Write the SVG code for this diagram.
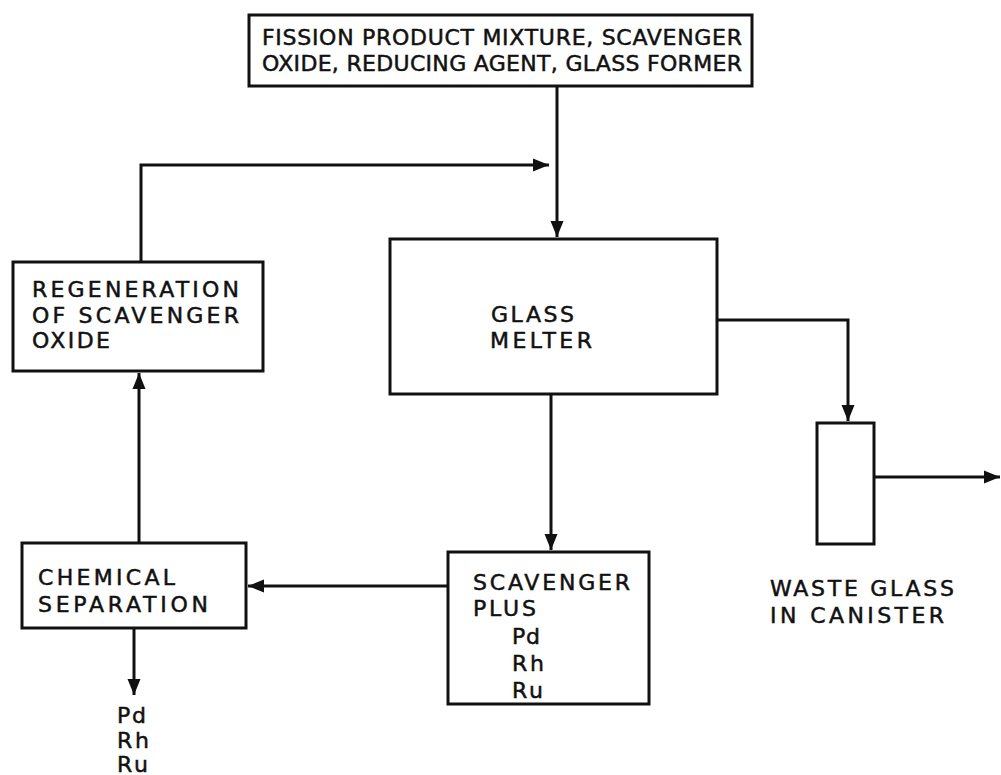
<svg xmlns="http://www.w3.org/2000/svg" width="1001" height="775" viewBox="0 0 1001 775">
<style>
  .box { fill: #fff; stroke: #111; stroke-width: 3; }
  .conn { fill: none; stroke: #111; stroke-width: 3; }
  .t { font-family: "DejaVu Sans", "Liberation Sans", sans-serif; font-size: 22px; fill: #111; stroke: #111; stroke-width: 0.5; }
</style>
<defs>
  <marker id="arr" markerUnits="userSpaceOnUse" markerWidth="18" markerHeight="16" refX="16" refY="8" orient="auto">
    <path d="M0,1.5 L16,8 L0,14.5 Z" fill="#111"/>
  </marker>
</defs>
<rect width="1001" height="775" fill="#fff"/>
<g id="connectors">
  <path class="conn" d="M557,87 L557,237" marker-end="url(#arr)"/>
  <path class="conn" d="M141,261 L141,165 L549,165" marker-end="url(#arr)"/>
  <path class="conn" d="M718,320 L848,320 L848,421" marker-end="url(#arr)"/>
  <path class="conn" d="M875,477 L1000,477" marker-end="url(#arr)"/>
  <path class="conn" d="M551,395 L551,550" marker-end="url(#arr)"/>
  <path class="conn" d="M447,586 L248,586" marker-end="url(#arr)"/>
  <path class="conn" d="M139,542 L139,373" marker-end="url(#arr)"/>
  <path class="conn" d="M134,628 L134,695" marker-end="url(#arr)"/>
</g>
<g id="feed">
  <rect class="box" x="249" y="15" width="503" height="71"/>
  <text class="t" x="262" y="45" textLength="480" lengthAdjust="spacing">FISSION PRODUCT MIXTURE, SCAVENGER</text>
  <text class="t" x="262" y="71" textLength="480" lengthAdjust="spacing">OXIDE, REDUCING AGENT, GLASS FORMER</text>
</g>
<g id="melter">
  <rect class="box" x="390" y="239" width="327" height="155"/>
  <text class="t" x="491" y="322" textLength="83" lengthAdjust="spacing">GLASS</text>
  <text class="t" x="490" y="348" textLength="102" lengthAdjust="spacing">MELTER</text>
</g>
<g id="regeneration">
  <rect class="box" x="13" y="262" width="250" height="109"/>
  <text class="t" x="32" y="297" textLength="207" lengthAdjust="spacing">REGENERATION</text>
  <text class="t" x="32" y="323" textLength="207" lengthAdjust="spacing">OF SCAVENGER</text>
  <text class="t" x="32" y="348" textLength="78" lengthAdjust="spacing">OXIDE</text>
</g>
<g id="canister">
  <rect class="box" x="817" y="423" width="57" height="121"/>
</g>
<g id="canister-label">
  <text class="t" x="770" y="596" textLength="184" lengthAdjust="spacing">WASTE GLASS</text>
  <text class="t" x="770" y="623" textLength="174" lengthAdjust="spacing">IN CANISTER</text>
</g>
<g id="scavenger">
  <rect class="box" x="448" y="552" width="201" height="152"/>
  <text class="t" x="473" y="590" textLength="157" lengthAdjust="spacing">SCAVENGER</text>
  <text class="t" x="473" y="616" textLength="63" lengthAdjust="spacing">PLUS</text>
  <text class="t" x="512" y="644" textLength="28" lengthAdjust="spacing">Pd</text>
  <text class="t" x="512" y="671" textLength="32" lengthAdjust="spacing">Rh</text>
  <text class="t" x="512" y="698" textLength="31" lengthAdjust="spacing">Ru</text>
</g>
<g id="chemical">
  <rect class="box" x="22" y="543" width="224" height="85"/>
  <text class="t" x="38" y="585" textLength="137" lengthAdjust="spacing">CHEMICAL</text>
  <text class="t" x="38" y="612" textLength="170" lengthAdjust="spacing">SEPARATION</text>
</g>
<g id="products">
  <text class="t" x="117" y="723" textLength="29" lengthAdjust="spacing">Pd</text>
  <text class="t" x="117" y="748" textLength="32" lengthAdjust="spacing">Rh</text>
  <text class="t" x="117" y="772" textLength="31" lengthAdjust="spacing">Ru</text>
</g>
</svg>
